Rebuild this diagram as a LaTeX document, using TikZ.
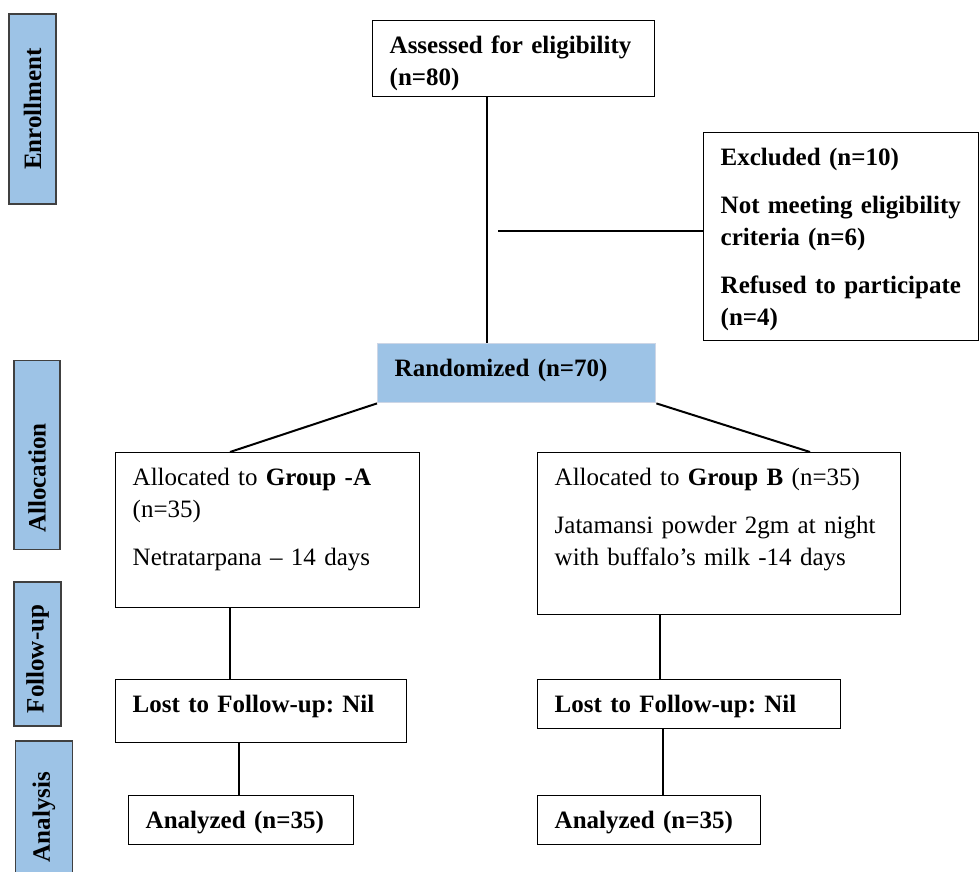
\documentclass[tikz,border=0pt]{standalone}
\usepackage{fontspec}
\setmainfont{Liberation Serif}
\frenchspacing
\definecolor{sideblue}{HTML}{9DC3E6}
\definecolor{randedge}{HTML}{CDD6E6}
\newcommand\flowfont{\fontsize{12.5}{16}\selectfont}
\tikzset{
  flowbox/.style={draw, line width=0.7pt, anchor=north west, align=left,
    inner xsep=8.5pt, inner ysep=8pt, text height=8.5pt, font=\flowfont},
  boldbox/.style={flowbox, font=\flowfont\bfseries},
  stagebox/.style={draw=black!75, fill=sideblue, line width=0.6pt, rotate=90,
    inner sep=0pt, font=\flowfont\bfseries},
  link/.style={line width=1pt}
}
\begin{document}
\begin{tikzpicture}[x=0.5pt, y=-0.5pt]
    \useasboundingbox (0,0) rectangle (979,872);
    \node [stagebox, minimum width=95pt, minimum height=23.5pt] (enrol) at (32.5,109) {Enrollment};
    \node [stagebox, minimum width=94.5pt, minimum height=23pt] (alloc) at (37,455) {Allocation\kern23pt};
    \node [stagebox, minimum width=72pt, minimum height=23.5pt] (follow) at (37.5,654) {Follow-up\kern5pt};
    \node [stagebox, minimum width=76pt, minimum height=28.5pt] (analys) at (44,817) {Analysis};

    \node [boldbox, text width=124pt, text depth=13.5pt] (assess) at (372,20) {Assessed for eligibility\\(n=80)};
    \node [boldbox, text width=120.5pt, text depth=79.5pt] (excl) at (703,132) {Excluded (n=10)\\[8pt]Not meeting eligibility\\criteria (n=6)\\[8pt]Refused to participate\\(n=4)};
    \node [boldbox, draw=randedge, fill=sideblue, text width=122pt, text depth=5pt] (rand) at (377,343) {Randomized (n=70)};

    \node [flowbox, text width=135pt, text depth=53pt] (grpA) at (115,452) {Allocated to \textbf{Group -A}\\(n=35)\\[8pt]Netratarpana -- 14 days};
    \node [flowbox, text width=164.5pt, text depth=56.5pt] (grpB) at (537,452) {Allocated to \textbf{Group B} (n=35)\\[8pt]Jatamansi powder 2gm at night\\with buffalo's milk -14 days};

    \node [boldbox, text width=128.5pt, text depth=7pt] (lostA) at (115,679) {Lost to Follow-up: Nil};
    \node [boldbox, text width=134.5pt, text depth=-2pt] (lostB) at (537,679) {Lost to Follow-up: Nil};

    \node [boldbox, text width=95.5pt, text depth=-0.5pt] (anaA) at (128,795) {Analyzed (n=35)};
    \node [boldbox, text width=94.5pt, text depth=-0.5pt] (anaB) at (537,795) {Analyzed (n=35)};

    \coordinate (split) at (498,231);
    \draw [link] (487,0 |- assess.south) -- (487,0 |- rand.north);
    \draw [link] (split) -- (split -| excl.west);
    \draw [link] (rand.south west) -- (230,0 |- grpA.north);
    \draw [link] (rand.south east) -- (810,0 |- grpB.north);
    \draw [link] (230,0 |- grpA.south) -- (230,0 |- lostA.north);
    \draw [link] (660,0 |- grpB.south) -- (660,0 |- lostB.north);
    \draw [link] (239,0 |- lostA.south) -- (239,0 |- anaA.north);
    \draw [link] (663,0 |- lostB.south) -- (663,0 |- anaB.north);
\end{tikzpicture}
\end{document}
